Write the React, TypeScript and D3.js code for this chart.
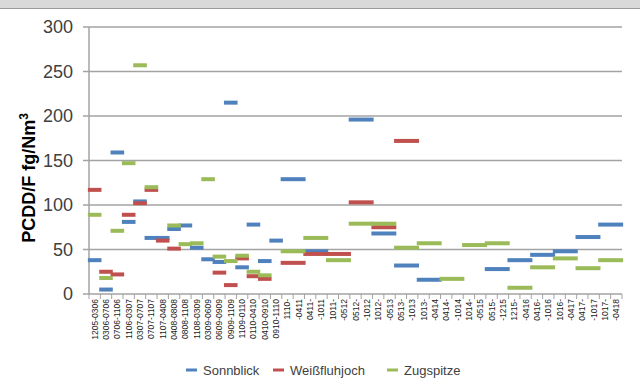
import React from 'react';
import * as d3 from 'd3';

// Sampling periods (MMYY-MMYY). The first ones occupy one axis slot each,
// the later, longer ones are spread over two slots with split labels.
const periods = [
  '1205-0306', '0306-0706', '0706-1106', '1106-0307', '0307-0707', '0707-1107',
  '1107-0408', '0408-0808', '0808-1108', '1108-0309', '0309-0609', '0609-0909',
  '0909-1109', '1109-0110', '0110-0410', '0410-0910', '0910-1110',
  '1110-0411', '0411-1011', '1011-0512', '0512-1012', '1012-0513', '0513-1013',
  '1013-0414', '0414-1014', '1014-0515', '0515-1215', '1215-0416', '0416-1016',
  '1016-0417', '0417-1017', '1017-0418',
];
const firstWidePeriod = 17;

const sonnblick = [
  38, 5, 159, 81, 104, 63, 63, 73, 77, 52, 39, 36, 215, 30, 78, 37, 60,
  129, 48, null, 196, 68, 32, 16, null, null, 28, 38, 44, 48, 64, 78,
];
const weissfluhjoch = [
  117, 25, 22, 89, 102, 117, 60, 51, null, null, null, 24, 10, 40, 20, 17, null,
  35, 45, 45, 103, 75, 172, null, null, null, null, null, null, null, null, null,
];
const zugspitze = [
  89, 18, 71, 147, 257, 120, null, 77, 56, 57, 129, 42, 37, 43, 25, 21, null,
  48, 63, 38, 79, 79, 52, 57, 17, 55, 57, 7, 30, 40, 29, 38,
];

const seriesNames = ['Sonnblick', 'Weißfluhjoch', 'Zugspitze'];
const seriesColors = ['#4F81BD', '#C0504D', '#9BBB59'];
const seriesValues = [sonnblick, weissfluhjoch, zugspitze];

const yTicks = [0, 50, 100, 150, 200, 250, 300];

// Axis slots: one per short period, two per long period.
type Slot = { label: string };
const slots: Slot[] = [];
const periodSlots: [number, number][] = [];
periods.forEach((p, i) => {
  if (i < firstWidePeriod) {
    periodSlots.push([slots.length, slots.length]);
    slots.push({ label: p });
  } else {
    const [a, b] = p.split('-');
    periodSlots.push([slots.length, slots.length + 1]);
    slots.push({ label: a + '-' });
    slots.push({ label: '-' + b });
  }
});

const W = 640;
const H = 388;
const plot = { left: 89, right: 622, top: 27, bottom: 294 };

export default function App() {
  const x = d3
    .scaleBand<number>()
    .domain(d3.range(slots.length))
    .range([plot.left, plot.right]);
  const y = d3.scaleLinear().domain([0, 300]).range([plot.bottom, plot.top]);
  const bw = x.bandwidth();
  const cx = (i: number) => (x(i) as number) + bw / 2;
  const ext = 6.8;
  const axisColor = '#A3A3A3';

  return (
    <svg
      width={W}
      height={H}
      style={{ position: 'absolute', left: 0, top: 0, fontFamily: 'Arial, "Liberation Sans", sans-serif' }}
    >
      <rect x={0} y={0} width={W} height={H} fill="#fff" />
      <rect x={0} y={0} width={W} height={8} fill="#D9D9D9" />
      <line x1={0} x2={W} y1={8.5} y2={8.5} stroke="#9A9A9A" strokeWidth={1} />

      {/* horizontal gridlines with tick stubs */}
      {yTicks.map((t) => (
        <g key={t}>
          <line
            x1={plot.left - 6}
            x2={plot.right}
            y1={y(t)}
            y2={y(t)}
            stroke={axisColor}
            strokeWidth={1.5}
          />
          <text
            x={73}
            y={y(t)}
            dy="0.36em"
            textAnchor="end"
            fontSize={18}
            fill="#404040"
          >
            {t}
          </text>
        </g>
      ))}

      {/* vertical axis */}
      <line
        x1={plot.left}
        x2={plot.left}
        y1={plot.top}
        y2={plot.bottom}
        stroke={axisColor}
        strokeWidth={1.5}
      />

      {/* category tick marks */}
      {d3.range(slots.length + 1).map((i) => {
        const xx = plot.left + i * bw;
        return (
          <line
            key={i}
            x1={xx}
            x2={xx}
            y1={plot.bottom}
            y2={plot.bottom + 5}
            stroke={axisColor}
            strokeWidth={1}
          />
        );
      })}

      {/* category labels */}
      {slots.map((s, i) => (
        <text
          key={i}
          transform={`translate(${cx(i) + 3},${plot.bottom + 5}) rotate(-90)`}
          textAnchor="end"
          fontSize={8.5}
          fill="#1a1a1a"
        >
          {s.label}
        </text>
      ))}

      {/* period segments */}
      {seriesValues.map((vals, si) => (
        <g key={si}>
          {vals.map((v, pi) => {
            if (v == null) return null;
            const [a, b] = periodSlots[pi];
            return (
              <line
                key={pi}
                x1={cx(a) - ext}
                x2={cx(b) + ext}
                y1={y(v)}
                y2={y(v)}
                stroke={seriesColors[si]}
                strokeWidth={4}
              />
            );
          })}
        </g>
      ))}

      {/* axis title */}
      <text
        transform="translate(35,178) rotate(-90)"
        textAnchor="middle"
        fontSize={18}
        fontWeight="bold"
        fill="#000"
      >
        PCDD/F fg/Nm
        <tspan fontSize={12} dy="-7">3</tspan>
      </text>

      {/* legend */}
      {seriesNames.map((name, i) => {
        const lx = [186, 273, 387][i];
        return (
          <g key={name}>
            <line
              x1={lx}
              x2={lx + 11}
              y1={370}
              y2={370}
              stroke={seriesColors[i]}
              strokeWidth={3}
            />
            <text x={lx + 17} y={370} dy="0.36em" fontSize={13} fill="#404040">
              {name}
            </text>
          </g>
        );
      })}
    </svg>
  );
}
